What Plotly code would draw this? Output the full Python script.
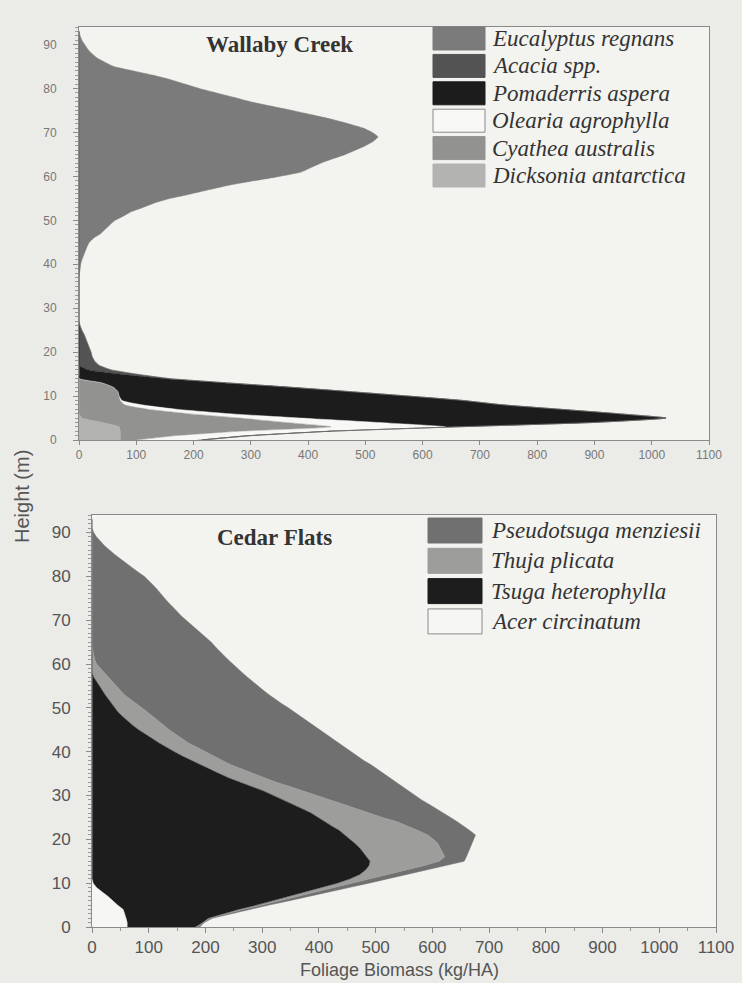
import plotly.graph_objects as go

W, H = 742, 983

HEIGHTS = list(range(0, 94))  # metres, 0..93

# ---------------- Wallaby Creek (stacked left -> right) ----------------
DICKSONIA = [72, 72, 72, 70, 40, 5, 0, 0, 0, 0,
             0, 0, 0, 0, 0, 0, 0, 0, 0, 0,
             0, 0, 0, 0, 0, 0, 0, 0, 0, 0,
             0, 0, 0, 0, 0, 0, 0, 0, 0, 0,
             0, 0, 0, 0, 0, 0, 0, 0, 0, 0,
             0, 0, 0, 0, 0, 0, 0, 0, 0, 0,
             0, 0, 0, 0, 0, 0, 0, 0, 0, 0,
             0, 0, 0, 0, 0, 0, 0, 0, 0, 0,
             0, 0, 0, 0, 0, 0, 0, 0, 0, 0,
             0, 0, 0, 0]
CYATHEA = [28, 98, 208, 370, 320, 275, 190, 120, 80, 72,
           70, 68, 60, 40, 0, 0, 0, 0, 0, 0,
           0, 0, 0, 0, 0, 0, 0, 0, 0, 0,
           0, 0, 0, 0, 0, 0, 0, 0, 0, 0,
           0, 0, 0, 0, 0, 0, 0, 0, 0, 0,
           0, 0, 0, 0, 0, 0, 0, 0, 0, 0,
           0, 0, 0, 0, 0, 0, 0, 0, 0, 0,
           0, 0, 0, 0, 0, 0, 0, 0, 0, 0,
           0, 0, 0, 0, 0, 0, 0, 0, 0, 0,
           0, 0, 0, 0]
OLEARIA = [105, 118, 145, 200, 160, 105, 70, 50, 30, 3,
           0, 0, 0, 0, 0, 0, 0, 0, 0, 0,
           0, 0, 0, 0, 0, 0, 0, 0, 0, 0,
           0, 0, 0, 0, 0, 0, 0, 0, 0, 0,
           0, 0, 0, 0, 0, 0, 0, 0, 0, 0,
           0, 0, 0, 0, 0, 0, 0, 0, 0, 0,
           0, 0, 0, 0, 0, 0, 0, 0, 0, 0,
           0, 0, 0, 0, 0, 0, 0, 0, 0, 0,
           0, 0, 0, 0, 0, 0, 0, 0, 0, 0,
           0, 0, 0, 0]
POMADERRIS = [10, 12, 15, 20, 380, 640, 680, 670, 630, 595,
              505, 406, 310, 215, 147, 70, 15, 0, 0, 0,
              0, 0, 0, 0, 0, 0, 0, 0, 0, 0,
              0, 0, 0, 0, 0, 0, 0, 0, 0, 0,
              0, 0, 0, 0, 0, 0, 0, 0, 0, 0,
              0, 0, 0, 0, 0, 0, 0, 0, 0, 0,
              0, 0, 0, 0, 0, 0, 0, 0, 0, 0,
              0, 0, 0, 0, 0, 0, 0, 0, 0, 0,
              0, 0, 0, 0, 0, 0, 0, 0, 0, 0,
              0, 0, 0, 0]
ACACIA = [0, 0, 0, 0, 0, 0, 0, 0, 0, 0,
          0, 0, 0, 5, 10, 30, 40, 35, 27, 23,
          21, 18, 15, 12, 9, 5, 2, 0, 0, 0,
          0, 0, 0, 0, 0, 0, 0, 0, 0, 0,
          0, 0, 0, 0, 0, 0, 0, 0, 0, 0,
          0, 0, 0, 0, 0, 0, 0, 0, 0, 0,
          0, 0, 0, 0, 0, 0, 0, 0, 0, 0,
          0, 0, 0, 0, 0, 0, 0, 0, 0, 0,
          0, 0, 0, 0, 0, 0, 0, 0, 0, 0,
          0, 0, 0, 0]
EUCALYPTUS = [0, 0, 0, 0, 0, 0, 0, 0, 0, 0,
              0, 0, 0, 0, 0, 0, 0, 0, 0, 0,
              0, 0, 0, 0, 0, 0, 0, 0, 0, 0,
              0, 0, 0, 0, 0, 0, 0, 0, 1, 2,
              3, 5, 8, 11, 14, 18, 26, 38, 46, 54,
              63, 78, 92, 113, 133, 160, 195, 228, 262, 305,
              350, 388, 405, 422, 443, 465, 483, 500, 514, 522,
              512, 496, 470, 441, 407, 372, 335, 299, 270, 240,
              210, 185, 160, 130, 95, 61, 45, 31, 22, 15,
              10, 5, 2, 0]

# ---------------- Cedar Flats (stacked left -> right) ----------------
ACER = [62, 62, 60, 58, 55, 45, 37, 28, 18, 8,
        2, 0, 0, 0, 0, 0, 0, 0, 0, 0,
        0, 0, 0, 0, 0, 0, 0, 0, 0, 0,
        0, 0, 0, 0, 0, 0, 0, 0, 0, 0,
        0, 0, 0, 0, 0, 0, 0, 0, 0, 0,
        0, 0, 0, 0, 0, 0, 0, 0, 0, 0,
        0, 0, 0, 0, 0, 0, 0, 0, 0, 0,
        0, 0, 0, 0, 0, 0, 0, 0, 0, 0,
        0, 0, 0, 0, 0, 0, 0, 0, 0, 0,
        0, 0, 0, 0]
TSUGA = [120, 133, 145, 174, 203, 245, 281, 320, 360, 397,
         430, 455, 472, 482, 488, 490, 484, 478, 472, 464,
         455, 447, 436, 423, 410, 397, 386, 370, 354, 338,
         322, 303, 282, 260, 241, 224, 207, 191, 175, 159,
         145, 131, 118, 106, 93, 82, 72, 62, 54, 46,
         40, 34, 28, 23, 18, 13, 8, 3, 0, 0,
         0, 0, 0, 0, 0, 0, 0, 0, 0, 0,
         0, 0, 0, 0, 0, 0, 0, 0, 0, 0,
         0, 0, 0, 0, 0, 0, 0, 0, 0, 0,
         0, 0, 0, 0]
THUJA = [4, 2, 3, 6, 8, 10, 14, 17, 20, 25,
         30, 39, 52, 73, 97, 122, 138, 140, 142, 146,
         147, 145, 139, 132, 128, 115, 104, 96, 89, 82,
         76, 72, 68, 65, 64, 61, 57, 54, 55, 55,
         53, 54, 52, 52, 54, 54, 55, 56, 54, 52,
         48, 44, 38, 34, 32, 30, 28, 25, 21, 14,
         8, 5, 3, 1, 0, 0, 0, 0, 0, 0,
         0, 0, 0, 0, 0, 0, 0, 0, 0, 0,
         0, 0, 0, 0, 0, 0, 0, 0, 0, 0,
         0, 0, 0, 0]
PSEUDOTSUGA = [4, 1, 4, 6, 10, 12, 16, 20, 22, 23,
               26, 28, 32, 35, 39, 44, 38, 45, 52, 59,
               70, 84, 91, 101, 106, 120, 130, 142, 151, 161,
               172, 183, 197, 211, 221, 230, 240, 247, 249, 254,
               259, 261, 265, 266, 266, 266, 264, 262, 262, 260,
               258, 256, 256, 255, 252, 249, 247, 246, 244, 242,
               240, 235, 229, 223, 217, 210, 201, 192, 183, 174,
               165, 157, 150, 142, 135, 128, 122, 115, 108, 100,
               92, 81, 70, 60, 50, 40, 30, 22, 15, 8,
               3, 0, 0, 0]

X_TICKS = [0, 100, 200, 300, 400, 500, 600, 700, 800, 900, 1000, 1100]

WALLABY = [  # stacking order (left -> right)
    ("Dicksonia antarctica", DICKSONIA, "#b3b3b1"),
    ("Cyathea australis", CYATHEA, "#929291"),
    ("Olearia agrophylla", OLEARIA, "#f8f8f6"),
    ("Pomaderris aspera", POMADERRIS, "#1c1c1c"),
    ("Acacia spp.", ACACIA, "#535353"),
    ("Eucalyptus regnans", EUCALYPTUS, "#7b7b7b"),
]
CEDAR = [
    ("Acer circinatum", ACER, "#f6f6f4"),
    ("Tsuga heterophylla", TSUGA, "#1d1d1d"),
    ("Thuja plicata", THUJA, "#9d9d9c"),
    ("Pseudotsuga menziesii", PSEUDOTSUGA, "#707070"),
]
LIGHT = ("#f8f8f6", "#f6f6f4")

fig = go.Figure()
for name, vals, col in WALLABY:
    fig.add_trace(go.Scatter(x=vals, y=HEIGHTS, name=name, mode="lines",
                             stackgroup="wal", orientation="h",
                             line=dict(color=col, width=0.5, shape="spline", smoothing=0.5),
                             fillcolor=col,
                             xaxis="x", yaxis="y", showlegend=False))
for name, vals, col in CEDAR:
    fig.add_trace(go.Scatter(x=vals, y=HEIGHTS, name=name, mode="lines",
                             stackgroup="ced", orientation="h",
                             line=dict(color=col, width=0.5), fillcolor=col,
                             xaxis="x2", yaxis="y2", showlegend=False))


def px_x(p):
    return p / W


def px_y(p):
    return 1 - p / H


axis_common = dict(showgrid=False, zeroline=False, showline=True, mirror=True,
                   linecolor="#8a8a8a", linewidth=1, ticks="outside",
                   tickcolor="#8a8a8a", fixedrange=True)

fig.update_layout(
    width=W, height=H,
    margin=dict(l=0, r=0, t=0, b=0, autoexpand=False),
    paper_bgcolor="#ebebe8",
    plot_bgcolor="#f3f3f0",
    showlegend=False,
    xaxis=dict(domain=[px_x(79), px_x(709)], range=[0, 1100], anchor="y",
               tickvals=X_TICKS, ticklen=4,
               tickfont=dict(family="Liberation Sans", size=12, color="#777"),
               **axis_common),
    yaxis=dict(domain=[px_y(440), px_y(27)], range=[0, 94], anchor="x",
               tick0=0, dtick=10, ticklen=5, ticklabelstandoff=14,
               minor=dict(dtick=1, ticklen=3, ticks="outside", tickcolor="#9a9a9a"),
               tickfont=dict(family="Liberation Sans", size=12, color="#777"),
               **axis_common),
    xaxis2=dict(domain=[px_x(92), px_x(716)], range=[0, 1100], anchor="y2",
                tickvals=X_TICKS, ticklen=5,
                minor=dict(dtick=50, ticklen=3, ticks="outside", tickcolor="#9a9a9a"),
                tickfont=dict(family="Liberation Sans", size=17, color="#555"),
                **axis_common),
    yaxis2=dict(domain=[px_y(927), px_y(515)], range=[0, 94], anchor="x2",
                tick0=0, dtick=10, ticklen=5, ticklabelstandoff=12,
                minor=dict(dtick=1, ticklen=3, ticks="outside", tickcolor="#9a9a9a"),
                tickfont=dict(family="Liberation Sans", size=17, color="#555"),
                **axis_common),
)

annotations = [
    dict(text="<b>Wallaby Creek</b>", x=px_x(279), y=px_y(45),
         font=dict(family="Liberation Serif", size=23, color="#333")),
    dict(text="<b>Cedar Flats</b>", x=px_x(274), y=px_y(537),
         font=dict(family="Liberation Serif", size=23, color="#333")),
    dict(text="Height (m)", x=px_x(22), y=px_y(497), textangle=-90,
         font=dict(family="Liberation Sans", size=20, color="#555")),
    dict(text="Foliage Biomass (kg/HA)", x=px_x(400), y=px_y(970),
         font=dict(family="Liberation Sans", size=18, color="#555")),
]
for a in annotations:
    a.update(xref="paper", yref="paper", xanchor="center", yanchor="middle", showarrow=False)

shapes = []


def add_legend(items, sw_x0, sw_x1, row_y0, row_step, sw_h, text_x):
    for i, (name, _vals, col) in enumerate(items):
        yc = row_y0 + i * row_step
        light = col in LIGHT
        shapes.append(dict(type="rect", xref="paper", yref="paper",
                           x0=px_x(sw_x0), x1=px_x(sw_x1),
                           y0=px_y(yc + sw_h / 2), y1=px_y(yc - sw_h / 2),
                           fillcolor=col,
                           line=dict(color="#8a8a8a" if light else col, width=1)))
        annotations.append(dict(text="<i>%s</i>" % name, x=px_x(text_x), y=px_y(yc),
                                xref="paper", yref="paper", xanchor="left",
                                yanchor="middle", showarrow=False,
                                font=dict(family="Liberation Serif", size=23, color="#333")))


add_legend(list(reversed(WALLABY)), 433, 485, 38.5, 27.4, 23, 490)
add_legend(list(reversed(CEDAR)), 428, 482, 530.5, 30.3, 25, 489)

fig.update_layout(annotations=annotations, shapes=shapes)

fig.write_html("out.html",
               config={"displayModeBar": False},
               post_script="document.body.style.margin='0';"
                           "document.body.style.background='#ebebe8';")
